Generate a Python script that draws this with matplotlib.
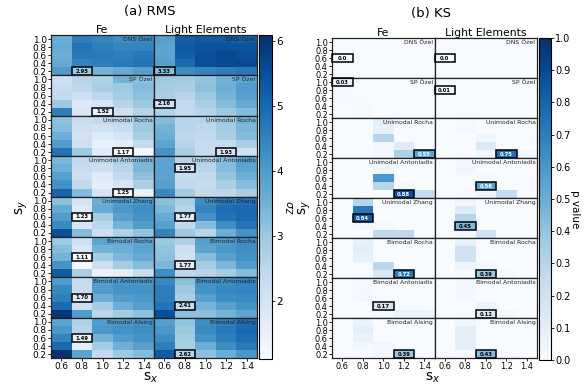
import numpy as np
import matplotlib
matplotlib.use('Agg')
import matplotlib.pyplot as plt
from matplotlib.colors import Normalize
from matplotlib.patches import Rectangle

# grids: rows are s_y = 1.0 (top) ... 0.2 (bottom), columns s_x = 0.6 ... 1.4
models = ['DNS Özel', 'SP Özel', 'Unimodal Rocha', 'Unimodal Antoniadis',
          'Unimodal Zhang', 'Bimodal Rocha', 'Bimodal Antoniadis', 'Bimodal Alsing']
sx = [0.6, 0.8, 1.0, 1.2, 1.4]
sy = [1.0, 0.8, 0.6, 0.4, 0.2]
columns = ['Fe', 'Light Elements']

rms_fe = [
    [[3.6, 4.6, 4.5, 4.3, 4.4], [3.7, 4.8, 4.6, 4.5, 4.5], [3.6, 4.7, 4.7, 4.6, 4.7],
     [3.7, 4.5, 4.6, 4.7, 4.8], [4.0, 2.95, 3.5, 3.7, 3.9]],
    [[2.2, 2.6, 2.7, 3.5, 3.2], [2.3, 2.5, 2.8, 3.0, 3.3], [2.4, 2.2, 2.5, 2.9, 3.2],
     [3.0, 1.8, 2.0, 2.6, 3.0], [4.6, 1.9, 1.52, 2.1, 2.6]],
    [[3.2, 2.3, 2.4, 2.5, 3.0], [3.3, 2.2, 2.1, 2.3, 3.0], [3.6, 2.1, 1.7, 2.0, 2.8],
     [4.0, 2.2, 1.5, 1.6, 2.4], [4.8, 3.0, 1.7, 1.17, 1.3]],
    [[3.4, 2.4, 2.4, 2.8, 3.4], [3.6, 2.3, 2.2, 2.6, 3.4], [3.9, 2.2, 1.7, 2.4, 3.2],
     [4.2, 2.4, 1.6, 2.0, 2.8], [5.1, 3.3, 2.0, 1.25, 1.5]],
    [[3.2, 2.0, 3.6, 4.0, 4.1], [3.7, 1.8, 3.7, 4.1, 4.3], [4.0, 1.23, 2.9, 3.9, 4.2],
     [4.4, 1.9, 2.5, 3.5, 4.0], [5.5, 3.3, 2.2, 2.7, 3.1]],
    [[3.0, 2.2, 3.8, 3.7, 3.8], [3.3, 1.9, 3.5, 3.6, 3.8], [3.5, 1.11, 2.9, 3.4, 3.7],
     [4.2, 1.2, 2.2, 2.9, 3.3], [5.3, 2.8, 1.4, 1.6, 2.3]],
    [[4.0, 2.3, 3.9, 4.1, 4.1], [4.4, 2.3, 4.0, 4.2, 4.2], [4.6, 1.70, 3.6, 4.0, 4.1],
     [5.0, 2.2, 2.9, 3.6, 3.9], [6.0, 4.0, 2.5, 2.9, 3.2]],
    [[3.8, 2.7, 4.0, 4.1, 4.2], [4.1, 2.6, 4.1, 4.2, 4.3], [4.5, 1.49, 3.5, 4.0, 4.2],
     [5.0, 1.6, 2.9, 3.6, 3.9], [6.1, 3.8, 2.4, 3.0, 3.3]],
]
rms_le = [
    [[3.9, 5.2, 5.3, 5.3, 5.2], [3.8, 5.3, 5.4, 5.4, 5.4], [3.8, 5.2, 5.5, 5.6, 5.5],
     [3.9, 5.0, 5.5, 5.6, 5.6], [3.33, 4.3, 4.5, 4.6, 4.7]],
    [[3.0, 2.9, 3.1, 3.5, 3.8], [2.9, 2.8, 3.2, 3.6, 4.0], [2.8, 2.6, 3.0, 3.5, 3.9],
     [2.16, 2.4, 2.8, 3.3, 3.7], [2.7, 2.4, 2.6, 3.0, 3.3]],
    [[3.3, 2.6, 2.6, 3.0, 3.5], [3.5, 2.6, 2.5, 2.9, 3.4], [3.6, 2.5, 2.4, 2.8, 3.3],
     [3.8, 2.6, 2.3, 2.4, 2.8], [4.2, 2.8, 2.3, 1.93, 2.1]],
    [[3.8, 2.6, 2.7, 3.3, 3.9], [3.8, 1.95, 2.6, 3.3, 3.8], [3.8, 2.3, 2.4, 3.1, 3.6],
     [3.9, 2.4, 2.3, 2.8, 3.3], [4.4, 2.9, 2.4, 2.5, 2.8]],
    [[3.2, 2.8, 4.3, 4.7, 4.8], [3.4, 2.6, 4.5, 4.9, 5.0], [3.7, 1.77, 4.2, 4.8, 5.0],
     [3.9, 2.4, 3.3, 4.3, 4.8], [4.5, 3.0, 2.6, 3.6, 4.2]],
    [[3.0, 2.7, 3.9, 4.0, 4.3], [3.1, 2.2, 3.8, 4.1, 4.3], [3.2, 2.1, 3.3, 3.9, 4.2],
     [3.4, 1.77, 2.9, 3.4, 4.0], [4.3, 2.5, 2.6, 2.9, 3.3]],
    [[4.4, 3.2, 4.2, 4.3, 4.5], [4.6, 3.0, 4.2, 4.4, 4.5], [4.6, 2.8, 3.9, 4.3, 4.4],
     [4.8, 2.41, 3.5, 3.9, 4.2], [5.5, 3.2, 3.2, 3.5, 3.8]],
    [[3.9, 3.1, 4.3, 4.6, 4.9], [4.1, 3.0, 4.4, 4.7, 5.0], [4.3, 2.9, 4.2, 4.6, 4.9],
     [4.6, 2.8, 3.6, 4.3, 4.7], [5.3, 2.62, 3.2, 3.6, 4.1]],
]
ks_fe = [
    [[0, 0, 0, 0, 0], [0, 0, 0, 0, 0], [0.002, 0, 0, 0, 0], [0, 0, 0, 0, 0], [0, 0, 0, 0, 0]],
    [[0.03, 0, 0, 0, 0], [0.02, 0, 0, 0, 0], [0.02, 0.005, 0, 0, 0],
     [0.005, 0.015, 0, 0, 0], [0, 0.005, 0, 0, 0]],
    [[0, 0, 0.1, 0, 0], [0, 0, 0.08, 0, 0], [0, 0, 0.3, 0, 0],
     [0, 0, 0.04, 0.12, 0], [0, 0, 0.03, 0.33, 0.55]],
    [[0, 0, 0.03, 0, 0], [0, 0, 0.05, 0, 0], [0, 0, 0.6, 0, 0],
     [0, 0, 0.3, 0.03, 0], [0, 0, 0, 0.88, 0.25]],
    [[0, 0.3, 0, 0, 0], [0, 0.72, 0, 0, 0], [0, 0.84, 0, 0, 0],
     [0, 0.03, 0.02, 0, 0], [0, 0, 0.27, 0.27, 0]],
    [[0, 0.08, 0, 0, 0], [0, 0.1, 0, 0, 0], [0, 0.08, 0.01, 0, 0],
     [0, 0.01, 0.28, 0, 0], [0, 0, 0.15, 0.72, 0]],
    [[0, 0.02, 0, 0, 0], [0, 0.02, 0, 0, 0], [0, 0.03, 0.01, 0, 0],
     [0, 0, 0.17, 0, 0], [0, 0, 0.02, 0.06, 0.06]],
    [[0, 0.07, 0, 0, 0], [0, 0.09, 0, 0, 0], [0, 0.07, 0, 0, 0],
     [0, 0.02, 0.03, 0, 0], [0, 0, 0.03, 0.39, 0]],
]
ks_le = [
    [[0, 0, 0, 0, 0], [0, 0, 0, 0, 0], [0.002, 0, 0, 0, 0], [0, 0, 0, 0, 0], [0, 0, 0, 0, 0]],
    [[0.003, 0, 0, 0, 0], [0.01, 0, 0, 0, 0], [0.003, 0, 0, 0, 0],
     [0, 0.003, 0, 0, 0], [0, 0, 0, 0, 0]],
    [[0, 0.02, 0, 0, 0], [0, 0.02, 0, 0, 0], [0, 0, 0.04, 0, 0],
     [0, 0, 0.15, 0, 0], [0, 0, 0.04, 0.75, 0.03]],
    [[0, 0.02, 0, 0, 0], [0, 0.03, 0, 0, 0], [0, 0.01, 0.02, 0, 0],
     [0, 0, 0.56, 0, 0], [0, 0, 0.05, 0.25, 0]],
    [[0, 0.04, 0, 0, 0], [0, 0.12, 0, 0, 0], [0, 0.3, 0, 0, 0],
     [0, 0.45, 0, 0, 0], [0, 0.02, 0.2, 0, 0]],
    [[0, 0.08, 0, 0, 0], [0, 0.2, 0, 0, 0], [0, 0.2, 0, 0, 0],
     [0, 0.05, 0.02, 0, 0], [0, 0, 0.39, 0.02, 0]],
    [[0, 0.02, 0, 0, 0], [0, 0.03, 0, 0, 0], [0, 0.02, 0, 0, 0],
     [0, 0, 0.06, 0, 0], [0, 0, 0.12, 0.03, 0]],
    [[0, 0.03, 0, 0, 0], [0, 0.1, 0, 0, 0], [0, 0.1, 0, 0, 0],
     [0, 0.1, 0, 0, 0], [0, 0.01, 0.43, 0, 0]],
]

W, H = 588, 389
fig = plt.figure(figsize=(W / 100, H / 100), dpi=100)
cmap = plt.get_cmap('Blues')

xedges = np.arange(0.5, 1.51, 0.2)
yedges = np.arange(0.1, 1.11, 0.2)


def panel(grids_fe, grids_le, x0, top, cw, rh, norm, kind, ticksize):
    mesh = None
    for r in range(8):
        for c, grids in enumerate([grids_fe, grids_le]):
            ax = fig.add_axes([(x0 + c * cw) / W, 1 - (top + (r + 1) * rh) / H, cw / W, rh / H])
            z = np.array(grids[r], dtype=float)
            mesh = ax.pcolormesh(xedges, yedges, np.flipud(z), cmap=cmap, norm=norm)
            ax.set_xlim(0.5, 1.5)
            ax.set_ylim(0.1, 1.1)
            ax.set_xticks(sx)
            ax.set_yticks(sy)
            ax.tick_params(length=2, width=0.6, labelsize=ticksize, pad=1)
            if c == 0:
                ax.set_yticklabels(['%.1f' % v for v in sy])
            else:
                ax.tick_params(left=False, labelleft=False)
            if r == 7:
                ax.set_xticklabels(['%.1f' % v for v in sx])
            else:
                ax.tick_params(bottom=False, labelbottom=False)
            for s in ax.spines.values():
                s.set_linewidth(0.9)
                s.set_color('#222222')
            if r == 0:
                ax.set_title(columns[c], fontsize=7.8, pad=1.5)
            ax.text(0.985, 0.95, models[r], transform=ax.transAxes, ha='right', va='top',
                    fontsize=4.4, color='#222222')
            # highlight best cell
            if kind == 'rms':
                i, j = np.unravel_index(np.argmin(z), z.shape)
                lab = '%.2f' % z[i, j]
            else:
                i, j = np.unravel_index(np.argmax(z), z.shape)
                lab = str(round(z[i, j], 2))
            ax.add_patch(Rectangle((sx[j] - 0.1, sy[i] - 0.1), 0.2, 0.2, fill=False,
                                   ec='black', lw=1.1, clip_on=False, zorder=5))
            tc = 'white' if norm(z[i, j]) > 0.5 else 'black'
            ax.text(sx[j], sy[i], lab, ha='center', va='center', fontsize=3.8,
                    fontweight='bold', color=tc, zorder=6)
    return mesh


# (a) RMS
all_rms = np.array(rms_fe + rms_le, dtype=float)
norm_rms = Normalize(vmin=all_rms.min(), vmax=all_rms.max())
m1 = panel(rms_fe, rms_le, 51, 35, 103, 40.4, norm_rms, 'rms', 6.4)
cax1 = fig.add_axes([259 / W, 1 - 359 / H, 13 / W, 324 / H])
cb1 = fig.colorbar(m1, cax=cax1)
cb1.set_ticks([2, 3, 4, 5, 6])
cb1.ax.tick_params(labelsize=7.5, length=2, width=0.6, pad=1)
cb1.outline.set_linewidth(0.8)
fig.text(288 / W, 1 - 207 / H, r'$\sigma_Z$', rotation=270, ha='center', va='center', fontsize=8)
fig.text(150 / W, 1 - 11 / H, '(a) RMS', ha='center', va='center', fontsize=9.5)
fig.text(22 / W, 1 - 207 / H, r's$_y$', rotation=90, ha='center', va='center', fontsize=10)
fig.text(151 / W, 1 - 378 / H, r's$_x$', ha='center', va='center', fontsize=10)

# (b) KS
norm_ks = Normalize(vmin=0.0, vmax=1.0)
m2 = panel(ks_fe, ks_le, 332, 38.3, 102.5, 40, norm_ks, 'ks', 5.9)
cax2 = fig.add_axes([539 / W, 1 - 360 / H, 12 / W, 322 / H])
cb2 = fig.colorbar(m2, cax=cax2)
cb2.set_ticks(np.round(np.arange(0, 1.01, 0.1), 1))
cb2.ax.tick_params(labelsize=7, length=2, width=0.6, pad=1)
cb2.outline.set_linewidth(0.8)
fig.text(575 / W, 1 - 209 / H, 'p value', rotation=270, ha='center', va='center', fontsize=7.5)
fig.text(431 / W, 1 - 13 / H, '(b) KS', ha='center', va='center', fontsize=9.5)
fig.text(305 / W, 1 - 207 / H, r's$_y$', rotation=90, ha='center', va='center', fontsize=10)
fig.text(433 / W, 1 - 378 / H, r's$_x$', ha='center', va='center', fontsize=10)

fig.savefig('out.png', dpi=100)
